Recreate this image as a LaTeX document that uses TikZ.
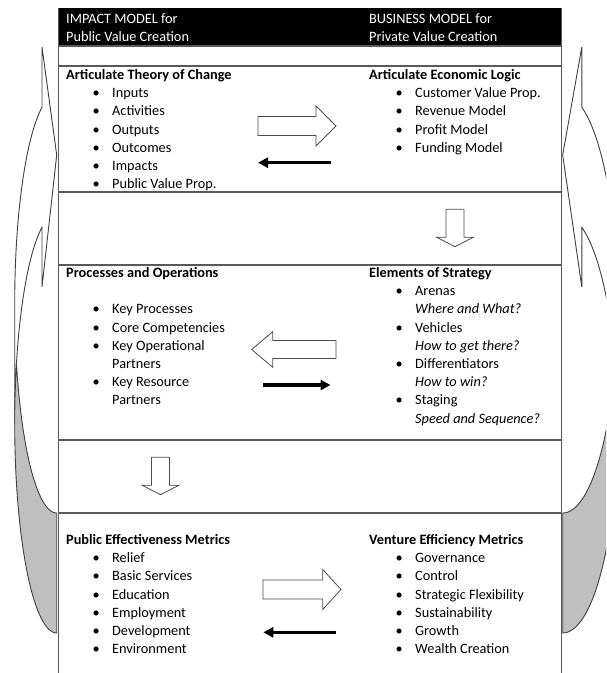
\documentclass[tikz,border=0pt]{standalone}
\usepackage{fontspec}
\setmainfont{Carlito}
\usetikzlibrary{arrows.meta}

% bullet item and continuation line inside a text block
\newcommand\bitem[1]{\hspace*{26.5pt}\makebox[19.5pt][l]{\textbullet}#1}
\newcommand\bcont[1]{\hspace*{46pt}#1}

% curved side arrow, drawn with its base/tip edge at x=0, bulging to negative x
\newcommand\sidearrow{%
  \filldraw[bandfront] (-14.7,47) -- (0,155) -- (-14.7,287) -- (-14.7,227.3)
    -- plot[domain=249.5:180,samples=40] ({42*cos(\x)},{423.5+209.5*sin(\x)})
    -- plot[domain=180:249.5,samples=40] ({42*cos(\x)},{303.5+209.5*sin(\x)})
    -- cycle;
  \filldraw[bandback] (0,633)
    -- plot[domain=90:196.64,samples=50] ({42*cos(\x)},{423.5+209.5*sin(\x)})
    -- plot[domain=163.36:90,samples=40] ({42*cos(\x)},{303.5+209.5*sin(\x)})
    -- cycle;
}

\begin{document}
\begin{tikzpicture}[x=1pt,y=-1pt,
  rule/.style={draw=black!65,line width=1.2pt},
  % text blocks are placed by the baseline of their last line
  txt/.style={anchor=base west,inner sep=0pt,align=left,
    font=\fontsize{14.3}{18.2}\selectfont},
  hdr/.style={txt,text=white},
  hollow/.style={draw=black!70,fill=white,line width=0.8pt,line join=miter},
  solidarrow/.style={line width=3.3pt,-{Triangle[length=10pt,width=10pt]}},
  bandfront/.style={draw=black!75,fill=white,line width=0.9pt,line join=miter},
  bandback/.style={draw=black!75,fill=gray!50,line width=0.9pt}]
\useasboundingbox (0,0) rectangle (606,673);
\clip (0,0) rectangle (606,673);

% curved side arrows
\begin{scope}[shift={(56.7,0)}]
  \sidearrow
\end{scope}
\begin{scope}[shift={(562.7,0)},xscale=-1.3]
  \sidearrow
\end{scope}

% table frame
\fill[black] (58.5,8) rectangle (561.5,46);
\draw[rule] (58.5,8) -- (58.5,680);
\draw[rule] (561.5,8) -- (561.5,680);
\foreach \yy in {46,66,192,265,440,513}
  \draw[rule] (58.5,\yy) -- (561.5,\yy);

% header
\node[hdr] (hdrL) at (66,41.4) {IMPACT MODEL for\\Public Value Creation};
\node[hdr] (hdrR) at (369,41.4) {BUSINESS MODEL for\\Private Value Creation};

% first section
\node[txt] (theory) at (66,188.7) {\textbf{Articulate Theory of Change}\\
  \bitem{Inputs}\\ \bitem{Activities}\\ \bitem{Outputs}\\
  \bitem{Outcomes}\\ \bitem{Impacts}\\ \bitem{Public Value Prop.}};
\node[txt] (logic) at (369,152.3) {\textbf{Articulate Economic Logic}\\
  \bitem{Customer Value Prop.}\\ \bitem{Revenue Model}\\
  \bitem{Profit Model}\\ \bitem{Funding Model}};

\draw[hollow] (258,116.5) -- (316,116.5) -- (316,106) -- (336,126)
  -- (316,146) -- (316,135.5) -- (258,135.5) -- cycle;
\coordinate (b1s) at (330.5,162.7);
\coordinate (b1e) at (258,162.7);
\draw[solidarrow] (b1s) -- (b1e);

% arrow down to strategy
\draw[hollow] (446,209.3) -- (464,209.3) -- (464,237.3) -- (473.3,237.3)
  -- (455,246.7) -- (436.7,237.3) -- (446,237.3) -- cycle;

% second section
\node[txt] (process) at (66,404.9) {\textbf{Processes and Operations}\\ \mbox{}\\
  \bitem{Key Processes}\\ \bitem{Core Competencies}\\
  \bitem{Key Operational}\\ \bcont{Partners}\\
  \bitem{Key Resource}\\ \bcont{Partners}};
\node[txt] (strategy) at (369,423.1) {\textbf{Elements of Strategy}\\
  \bitem{Arenas}\\ \bcont{\textit{Where and What?}}\\
  \bitem{Vehicles}\\ \bcont{\textit{How to get there?}}\\
  \bitem{Differentiators}\\ \bcont{\textit{How to win?}}\\
  \bitem{Staging}\\ \bcont{\textit{Speed and Sequence?}}};

\draw[hollow] (336,340.5) -- (272.7,340.5) -- (272.7,331.7) -- (251.7,349.5)
  -- (272.7,367.3) -- (272.7,358.5) -- (336,358.5) -- cycle;
\coordinate (b2s) at (263.3,385);
\coordinate (b2e) at (330.5,385);
\draw[solidarrow] (b2s) -- (b2e);

% arrow down to metrics
\draw[hollow] (151.5,457.3) -- (169.5,457.3) -- (169.5,485.3) -- (178.8,485.3)
  -- (160.5,494.7) -- (142.2,485.3) -- (151.5,485.3) -- cycle;

% third section
\node[txt] (public) at (66,653.7) {\textbf{Public Effectiveness Metrics}\\
  \bitem{Relief}\\ \bitem{Basic Services}\\ \bitem{Education}\\
  \bitem{Employment}\\ \bitem{Development}\\ \bitem{Environment}};
\node[txt] (venture) at (369,653.7) {\textbf{Venture Efficiency Metrics}\\
  \bitem{Governance}\\ \bitem{Control}\\ \bitem{Strategic Flexibility}\\
  \bitem{Sustainability}\\ \bitem{Growth}\\ \bitem{Wealth Creation}};

\draw[hollow] (263,580) -- (322.7,580) -- (322.7,569.5) -- (341,589.5)
  -- (322.7,609.5) -- (322.7,599) -- (263,599) -- cycle;
\coordinate (b3s) at (336,632.3);
\coordinate (b3e) at (263.3,632.3);
\draw[solidarrow] (b3s) -- (b3e);
\end{tikzpicture}
\end{document}
